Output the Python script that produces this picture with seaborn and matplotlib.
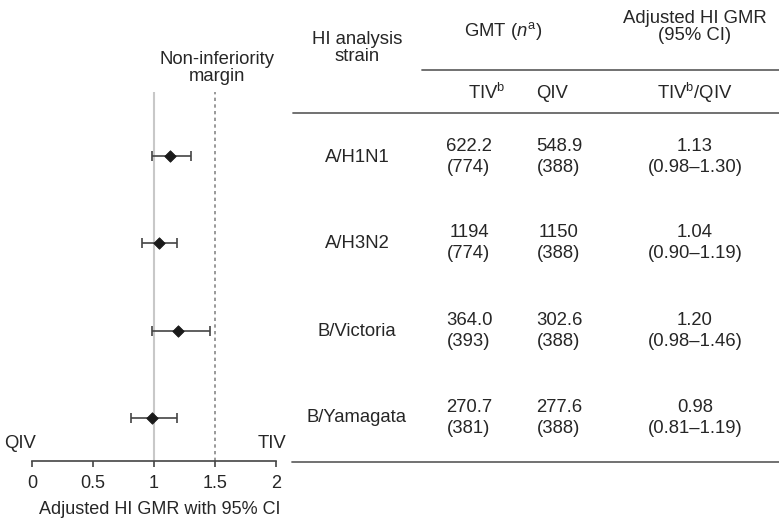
import matplotlib
matplotlib.use("Agg")
import matplotlib.pyplot as plt
from matplotlib.lines import Line2D
import pandas as pd
import seaborn as sns

# HI antibody results by strain
strains = ["A/H1N1", "A/H3N2", "B/Victoria", "B/Yamagata"]
tiv_gmt = ["622.2", "1194", "364.0", "270.7"]
tiv_n = [774, 774, 393, 381]
qiv_gmt = ["548.9", "1150", "302.6", "277.6"]
qiv_n = [388, 388, 388, 388]
gmr = [1.13, 1.04, 1.20, 0.98]
ci_low = [0.98, 0.90, 0.98, 0.81]
ci_high = [1.30, 1.19, 1.46, 1.19]
x_ticks = [0, 0.5, 1, 1.5, 2]
x_tick_labels = ["0", "0.5", "1", "1.5", "2"]
margin = 1.5

df = pd.DataFrame({"strain": strains, "gmr": gmr, "lo": ci_low, "hi": ci_high,
                   "row": range(len(strains))})

sns.set_style("white")
plt.rcParams["font.family"] = ["Liberation Sans", "DejaVu Sans"]
plt.rcParams["mathtext.fontset"] = "custom"
plt.rcParams["mathtext.rm"] = "Liberation Sans"
plt.rcParams["mathtext.it"] = "Liberation Sans:italic"

W, H = 779, 520
fig = plt.figure(figsize=(W / 100, H / 100), dpi=100)
TXT = "#262626"
FS = 13.3


def fx(px):
    return px / W


def fy(py):
    return 1 - py / H


# forest plot panel
ax = fig.add_axes([fx(32), fy(461), fx(276) - fx(32), fy(92) - fy(461)])
ax.set_xlim(0, 2)
ax.set_ylim(3.49, -0.733)

ax.axvline(1, color="#c8c8c8", lw=1.5, zorder=1)
ax.axvline(margin, color="#888888", lw=1.2, ls=(0, (2, 2)), zorder=1)

ax.errorbar(df["gmr"], df["row"],
            xerr=[df["gmr"] - df["lo"], df["hi"] - df["gmr"]],
            fmt="none", ecolor="#444444", elinewidth=1.2, capsize=3.3, capthick=1.2,
            zorder=2)
sns.scatterplot(data=df, x="gmr", y="row", marker="D", s=34, color="#1a1a1a",
                edgecolor="#1a1a1a", linewidth=0.6, zorder=3, ax=ax, legend=False)

for side in ["top", "right", "left"]:
    ax.spines[side].set_visible(False)
ax.spines["bottom"].set_color("#444444")
ax.spines["bottom"].set_linewidth(1.2)
ax.set_yticks([])
ax.set_ylabel("")
ax.set_xticks(x_ticks)
ax.set_xticklabels(x_tick_labels)
ax.tick_params(axis="x", direction="out", length=4, width=1.2, color="#444444",
               labelsize=13, labelcolor=TXT, pad=6, bottom=True)
ax.set_xlabel("Adjusted HI GMR with 95% CI", fontsize=13, color=TXT)
ax.xaxis.set_label_coords((160 - 32) / (276 - 32), -0.108)

fig.text(fx(217), fy(68), "Non-inferiority\nmargin", ha="center", va="center",
         fontsize=FS, color=TXT, linespacing=1.05)
fig.text(fx(4), fy(443), "QIV", ha="left", va="center", fontsize=FS, color=TXT)
fig.text(fx(286), fy(443), "TIV", ha="right", va="center", fontsize=FS, color=TXT)

# table panel
LINE = "#666666"
fig.add_artist(Line2D([fx(422), fx(779)], [fy(70), fy(70)], color=LINE, lw=1.3))
fig.add_artist(Line2D([fx(293), fx(779)], [fy(113), fy(113)], color=LINE, lw=1.3))
fig.add_artist(Line2D([fx(292), fx(779)], [fy(462), fy(462)], color=LINE, lw=1.3))

fig.text(fx(357), fy(48), "HI analysis\nstrain", ha="center", va="center",
         fontsize=FS, color=TXT, linespacing=1.0)
fig.text(fx(503), fy(31), r"GMT ($n^{\mathrm{a}}$)", ha="center", va="center",
         fontsize=FS, color=TXT)
fig.text(fx(695), fy(27), "Adjusted HI GMR\n(95% CI)", ha="center", va="center",
         fontsize=FS, color=TXT, linespacing=1.0)
fig.text(fx(487), fy(93), r"TIV$^{\mathrm{b}}$", ha="center", va="center",
         fontsize=FS, color=TXT)
fig.text(fx(552), fy(93), "QIV", ha="center", va="center", fontsize=FS, color=TXT)
fig.text(fx(695), fy(93), r"TIV$^{\mathrm{b}}$/QIV", ha="center", va="center",
         fontsize=FS, color=TXT)

row_y = [157, 243, 331, 418]
for i, s in enumerate(strains):
    y = row_y[i]
    fig.text(fx(357), fy(y), s, ha="center", va="center", fontsize=FS, color=TXT)
    fig.text(fx(469), fy(y), f"{tiv_gmt[i]}\n({tiv_n[i]})", ha="center",
             va="center", fontsize=FS, color=TXT, linespacing=1.25)
    fig.text(fx(559), fy(y), f"{qiv_gmt[i]}\n({qiv_n[i]})", ha="center",
             va="center", fontsize=FS, color=TXT, linespacing=1.25)
    fig.text(fx(695), fy(y), f"{gmr[i]:.2f}\n({ci_low[i]:.2f}\u2013{ci_high[i]:.2f})",
             ha="center", va="center", fontsize=FS, color=TXT, linespacing=1.25)

fig.savefig("out.png", dpi=100)
